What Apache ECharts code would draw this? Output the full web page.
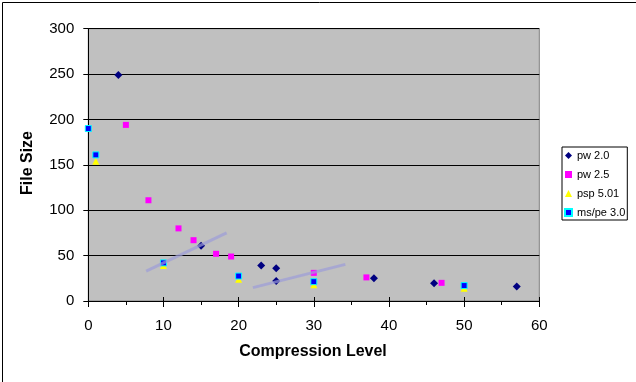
<!DOCTYPE html>
<html>
<head>
<meta charset="utf-8">
<script src="https://cdn.jsdelivr.net/npm/echarts@6/dist/echarts.min.js"></script>
<style>html,body{margin:0;padding:0;background:#fff}#c{width:636px;height:382px}</style>
</head>
<body>
<div id="c"></div>
<script>
var seriesNames = ['pw 2.0', 'pw 2.5', 'psp 5.01', 'ms/pe 3.0'];
var pw20 = [[4, 249], [15, 61], [23, 39], [25, 36], [25, 22], [38, 25], [46, 19.5], [57, 16]];
var pw25 = [[5, 194], [8, 111], [12, 80], [14, 67], [17, 52], [19, 49], [30, 31], [37, 26], [47, 20]];
var psp501 = [[1, 154], [10, 39], [20, 24], [30, 18], [50, 14]];
var mspe30 = [[0, 190], [1, 161], [10, 42], [20, 27.5], [30, 21.3], [50, 17]];
var trendA = [[7.7, 33], [18.4, 75]];
var trendB = [[21.9, 14.7], [34.2, 40.4]];
var xTicks = [0, 10, 20, 30, 40, 50, 60];
var yTicks = [0, 50, 100, 150, 200, 250, 300];

var FONT = '"Liberation Sans", Arial, sans-serif';
var chart = echarts.init(document.getElementById('c'), null, {renderer: 'canvas'});
var trendStyle = {color: '#9c9cd8', width: 3, opacity: 0.7};
chart.setOption({
  backgroundColor: '#ffffff',
  animation: false,
  grid: {left: 88.3, top: 28.7, right: 96.7, bottom: 81, show: true,
         backgroundColor: '#c0c0c0', borderColor: '#808080', borderWidth: 1},
  xAxis: [{
    type: 'value', min: xTicks[0], max: xTicks[xTicks.length - 1], interval: 10,
    axisLine: {show: true, lineStyle: {color: '#000', width: 1}},
    axisTick: {show: true, length: 6, lineStyle: {color: '#000'}},
    minorTick: {show: true, splitNumber: 2, length: 4, lineStyle: {color: '#000'}},
    splitLine: {show: false},
    axisLabel: {color: '#000', fontSize: 15, fontFamily: FONT, margin: 17}
  }, {
    type: 'value', min: xTicks[0], max: xTicks[xTicks.length - 1], interval: 10, position: 'bottom',
    axisLine: {show: false},
    axisTick: {show: true, inside: true, length: 4, lineStyle: {color: '#000'}},
    splitLine: {show: false}, axisLabel: {show: false}
  }],
  yAxis: {
    type: 'value', min: yTicks[0], max: yTicks[yTicks.length - 1], interval: 50,
    axisLine: {show: true, lineStyle: {color: '#000', width: 1}},
    axisTick: {show: true, length: 5, lineStyle: {color: '#000'}},
    splitLine: {show: true, lineStyle: {color: '#000', width: 1}},
    axisLabel: {color: '#000', fontSize: 15, fontFamily: FONT, margin: 14}
  },
  legend: {
    data: seriesNames, orient: 'vertical', left: 562, top: 147,
    padding: [2, 2, 1, 2], itemGap: 6, itemWidth: 7, itemHeight: 7,
    backgroundColor: '#fff', borderColor: '#000', borderWidth: 1, borderRadius: 0,
    textStyle: {color: '#000', fontSize: 11, fontFamily: FONT, lineHeight: 13}
  },
  graphic: [
    {type: 'rect', left: 0, top: 0, shape: {width: 635, height: 381}, silent: true, z: 100,
     style: {fill: null, stroke: '#000', lineWidth: 1}},
    {type: 'text', x: 28, y: 163, rotation: Math.PI / 2,
     style: {text: 'File Size', fontSize: 16, fontWeight: 'bold', fontFamily: FONT, fill: '#000',
             textAlign: 'center', textVerticalAlign: 'middle'}},
    {type: 'text', x: 313, y: 352,
     style: {text: 'Compression Level', fontSize: 16, fontWeight: 'bold', fontFamily: FONT, fill: '#000',
             textAlign: 'center', textVerticalAlign: 'middle'}}
  ],
  series: [
    {name: seriesNames[0], type: 'scatter', data: pw20, symbol: 'diamond', symbolSize: 8,
     itemStyle: {color: '#000080', opacity: 1}},
    {name: seriesNames[1], type: 'scatter', data: pw25, symbol: 'rect', symbolSize: 6,
     itemStyle: {color: '#ff00ff', opacity: 1}},
    {name: seriesNames[2], type: 'scatter', data: psp501, symbol: 'triangle', symbolSize: 7,
     itemStyle: {color: '#ffff00', opacity: 1}},
    {name: seriesNames[3], type: 'scatter', data: mspe30, symbol: 'rect', symbolSize: 6,
     itemStyle: {color: '#0000ff', borderColor: '#00ffff', borderWidth: 1, opacity: 1}},
    {name: 'trendA', type: 'line', data: trendA, symbol: 'none', lineStyle: trendStyle, z: 5, silent: true},
    {name: 'trendB', type: 'line', data: trendB, symbol: 'none', lineStyle: trendStyle, z: 5, silent: true}
  ]
});
</script>
</body>
</html>
